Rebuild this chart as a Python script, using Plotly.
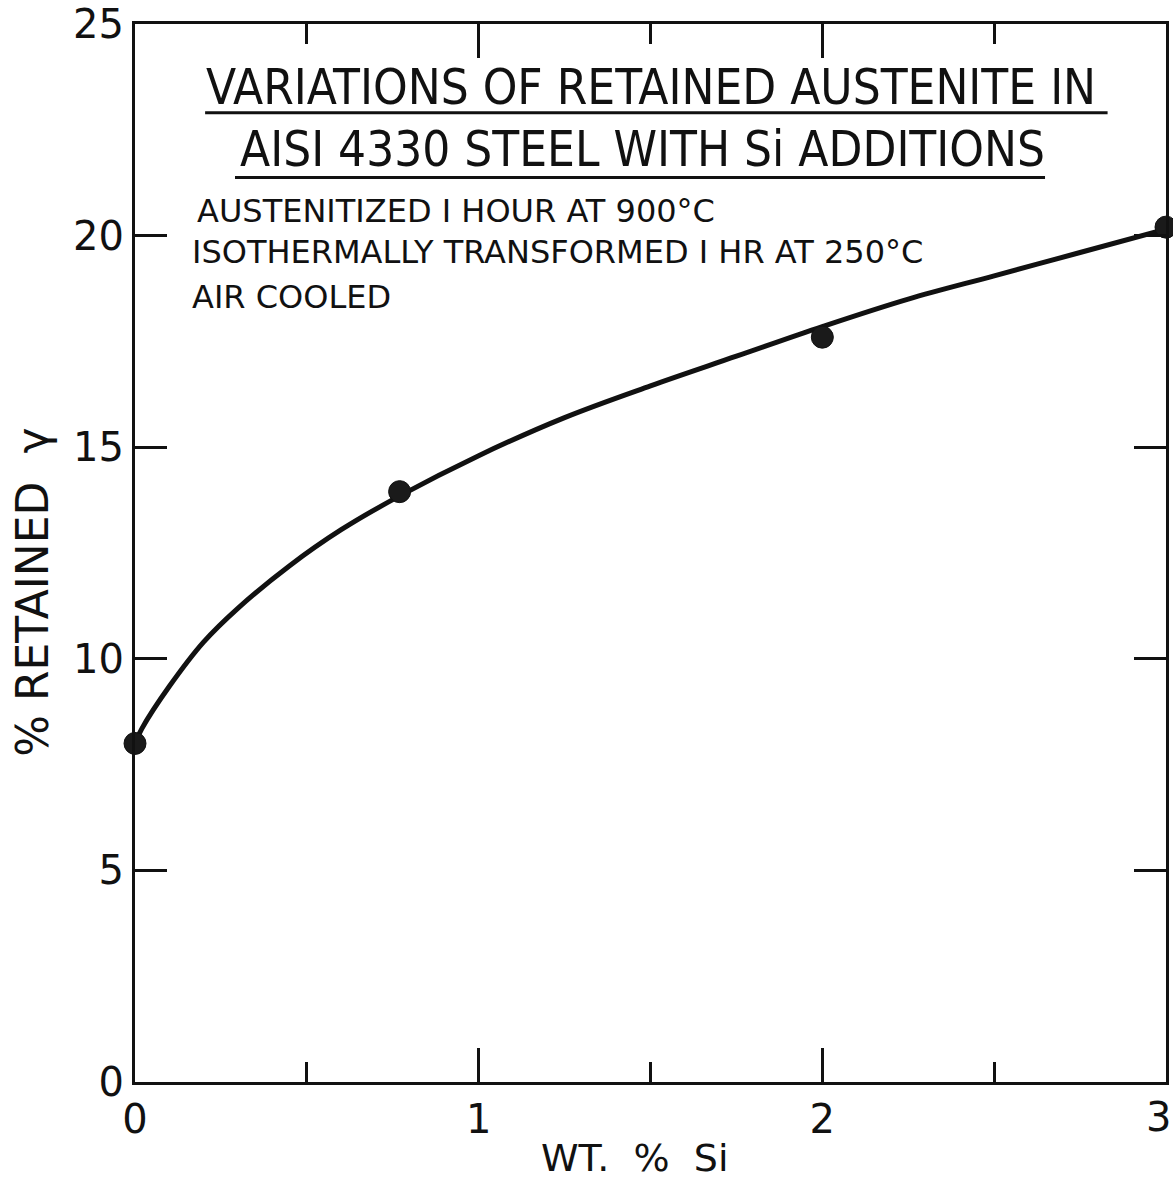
import plotly.graph_objects as go

# Measured data points (wt % Si, % retained austenite)
si_points = [0.0, 0.77, 2.0, 3.0]
gamma_points = [8.0, 13.95, 17.6, 20.2]

# Hand-drawn fitted curve
curve_si = [0.0, 0.02, 0.1, 0.2, 0.3, 0.45, 0.6, 0.77, 1.0, 1.25, 1.5, 1.75, 2.0, 2.25, 2.5, 2.75, 3.0]
curve_gamma = [8.0, 8.35, 9.35, 10.4, 11.2, 12.2, 13.05, 13.85, 14.8, 15.7, 16.45, 17.15, 17.85, 18.5, 19.05, 19.6, 20.15]

x_ticks = [0, 1, 2, 3]
x_tick_labels = ["0", "1", "2", "3"]
y_ticks = [0, 5, 10, 15, 20, 25]
y_tick_labels = ["0", "5", "10", "15", "20", "25"]

title_lines = ["VARIATIONS OF RETAINED AUSTENITE IN", "AISI 4330 STEEL WITH Si ADDITIONS"]
note_lines = ["AUSTENITIZED I HOUR AT 900°C", "ISOTHERMALLY TRANSFORMED I HR AT 250°C", "AIR COOLED"]
x_title = "WT.\u00a0\u00a0%\u00a0\u00a0Si"
y_title = "%\u00a0RETAINED\u00a0\u00a0γ"

INK = "#111111"
FONT = "Liberation Sans Narrow, DejaVu Sans Condensed, Arial Narrow, sans-serif"
WIDE = "DejaVu Sans, sans-serif"

fig = go.Figure()
fig.add_trace(go.Scatter(x=curve_si, y=curve_gamma, mode="lines",
                         line=dict(color=INK, width=5, shape="spline", smoothing=1.0),
                         hoverinfo="skip", showlegend=False, cliponaxis=False))
fig.add_trace(go.Scatter(x=si_points, y=gamma_points, mode="markers",
                         marker=dict(color="#1a1a1a", size=22, line=dict(color=INK, width=1)),
                         showlegend=False, cliponaxis=False))

# Title and underlines
fig.add_annotation(x=1.50, y=23.5, text=title_lines[0], showarrow=False,
                   font=dict(family=FONT, size=49, color=INK), xanchor="center", yanchor="middle")
fig.add_annotation(x=1.476, y=22.03, text=title_lines[1], showarrow=False,
                   font=dict(family=FONT, size=49, color=INK), xanchor="center", yanchor="middle")
fig.add_shape(type="line", x0=0.204, x1=2.83, y0=22.9, y1=22.9, line=dict(color=INK, width=3))
fig.add_shape(type="line", x0=0.291, x1=2.648, y0=21.37, y1=21.37, line=dict(color=INK, width=3))

note_y = [20.57, 19.62, 18.56]
note_x = [0.175, 0.16, 0.16]
for txt, yy, xx in zip(note_lines, note_y, note_x):
    fig.add_annotation(x=xx, y=yy, text=txt, showarrow=False,
                       font=dict(family=WIDE, size=32, color=INK), xanchor="left", yanchor="middle")

# Axis titles
fig.add_annotation(xref="paper", x=-0.099, y=11.58, text=y_title, textangle=-90,
                   showarrow=False, font=dict(family=WIDE, size=44, color=INK),
                   xanchor="center", yanchor="middle")
fig.add_annotation(x=1.452, yref="paper", y=-0.0715, text=x_title, showarrow=False,
                   font=dict(family=WIDE, size=38, color=INK),
                   xanchor="center", yanchor="middle")

# Last x tick label sits at the right edge of the page: keep it inside the page
fig.add_annotation(x=x_ticks[-1], yref="paper", y=-0.033, text=x_tick_labels[-1], showarrow=False,
                   font=dict(family=WIDE, size=40, color=INK),
                   xanchor="right", yanchor="middle", xshift=7)
shown_x_labels = x_tick_labels[:-1] + [""]

fig.update_layout(
    width=1173, height=1183,
    margin=dict(l=135, r=7, t=24, b=101),
    paper_bgcolor="white", plot_bgcolor="white",
    font=dict(family=FONT, color=INK),
    xaxis=dict(range=[0, 3], tickvals=x_ticks, ticktext=shown_x_labels,
               ticks="inside", ticklen=34, tickwidth=3, tickcolor=INK,
               minor=dict(dtick=0.5, ticks="inside", ticklen=20, tickwidth=3, tickcolor=INK),
               showline=True, linewidth=3, linecolor=INK, mirror="ticks",
               showgrid=False, zeroline=False,
               tickfont=dict(family=WIDE, size=40, color=INK),
               automargin=False),
    yaxis=dict(range=[0, 25], tickvals=y_ticks, ticktext=y_tick_labels,
               ticks="inside", ticklen=32, tickwidth=3, tickcolor=INK,
               showline=True, linewidth=3, linecolor=INK, mirror="ticks",
               showgrid=False, zeroline=False, ticklabeloverflow="allow",
               tickfont=dict(family=WIDE, size=40, color=INK),
               automargin=False),
)

fig.write_html("out.html")
